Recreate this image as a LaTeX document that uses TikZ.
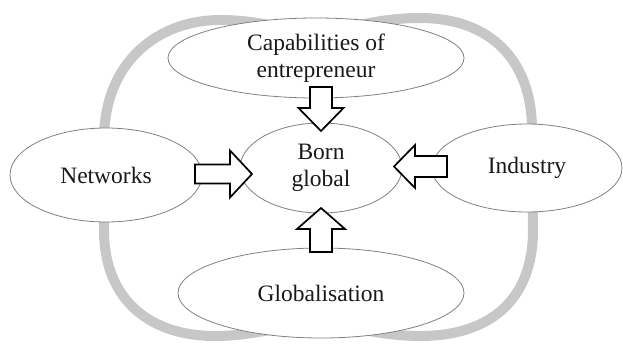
\documentclass[tikz,border=0pt]{standalone}
\usepackage{fontspec}
\setmainfont{Liberation Serif}
\usetikzlibrary{shapes.geometric}
\begin{document}
\begin{tikzpicture}[x=1pt,y=-1pt,
  bubble/.style={ellipse, draw=black!50, line width=0.8pt, fill=white, inner sep=0pt, align=center, text=black!90, font=\fontsize{23.5}{27}\selectfont},
  blockarrow/.style={draw=black, line width=1.7pt, fill=white, line join=miter},
  ring/.style={draw=black!22, line width=10pt}]
\useasboundingbox (0,0) rectangle (623,343);
\draw[ring] (104,180) -- (104,140) .. controls (104,60) and (160,20) .. (220,20)
  .. controls (260,20) and (280,30) .. (316,30)
  .. controls (350,30) and (375,18) .. (420,18)
  .. controls (490,18) and (532,60) .. (532,130) -- (533,230)
  .. controls (533,300) and (490,336) .. (420,336)
  .. controls (380,336) and (350,325) .. (316,325)
  .. controls (280,325) and (255,336) .. (215,336)
  .. controls (150,336) and (104,300) .. (104,230) -- cycle;
\node[bubble, minimum width=296pt, minimum height=80pt] (cap) at (316,58) {Capabilities of\\entrepreneur};
\node[bubble, minimum width=192pt, minimum height=94pt] (net) at (106,175) {Networks};
\node[bubble, minimum width=162pt, minimum height=90pt] (born) at (321,168) {Born\\global};
\node[bubble, minimum width=190pt, minimum height=88pt] (ind) at (527,168) {Industry};
\node[bubble, minimum width=286pt, minimum height=90pt] (glob) at (321,293) {Globalisation};
\coordinate (capS) at (321,87); \coordinate (capT) at (321,131);
\coordinate (globS) at (321,252); \coordinate (globT) at (321,208);
\coordinate (netS) at (195,174); \coordinate (netT) at (252,174);
\coordinate (indS) at (447,166.5); \coordinate (indT) at (394,166.5);
\draw[blockarrow] (capS) ++(-11,0) -- ++(0,21) -- ++(-11.5,0) -- (capT) -- ++(22.5,-23) -- ++(-11.5,0) -- ++(0,-21) -- cycle;
\draw[blockarrow] (globS) ++(-11,0) -- ++(0,-23) -- ++(-13,0) -- (globT) -- ++(24,21) -- ++(-13,0) -- ++(0,23) -- cycle;
\draw[blockarrow] (netS) ++(0,-9.5) -- ++(35,0) -- ++(0,-14) -- (netT) -- ++(-22,23.5) -- ++(0,-14) -- ++(-35,0) -- cycle;
\draw[blockarrow] (indS) ++(0,-10.5) -- ++(-32,0) -- ++(0,-11) -- (indT) -- ++(21,21.5) -- ++(0,-11) -- ++(32,0) -- cycle;
\end{tikzpicture}
\end{document}
